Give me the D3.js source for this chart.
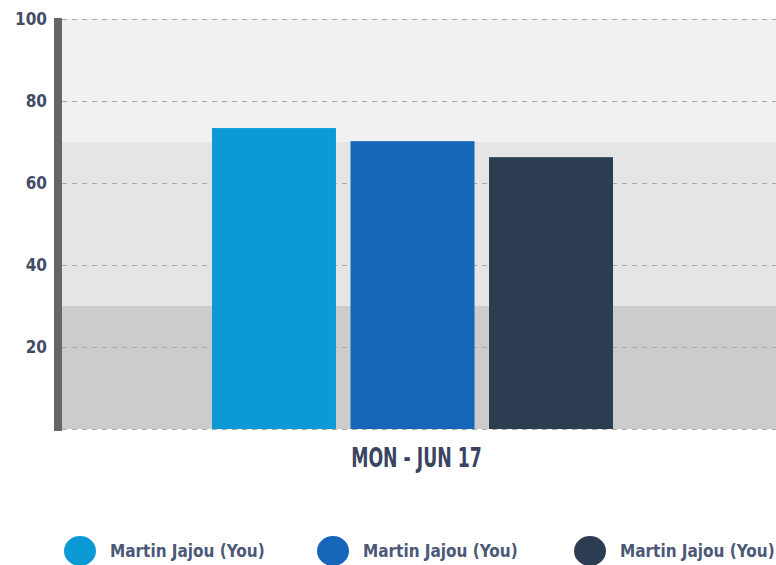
<!DOCTYPE html>
<html><head><meta charset="utf-8">
<script src="https://cdn.jsdelivr.net/npm/d3@7"></script>
<style>
html,body{margin:0;padding:0;background:#fff;}
svg text{font-family:"DejaVu Sans Condensed","Liberation Sans Narrow",sans-serif;font-weight:bold;}
</style></head>
<body><svg id="c" width="776" height="565"></svg>
<script>
const categories = ["MON - JUN 17"];
const seriesNames = ["Martin Jajou (You)", "Martin Jajou (You)", "Martin Jajou (You)"];
const seriesKeys = ["s1", "s2", "s3"];
const seriesValues = [73.4, 70.2, 66.3];
const seriesColors = ["#0b9ad6", "#1565b8", "#2d3d51"];
const yTicks = [20, 40, 60, 80, 100];
const bands = [[0, 30, "#cccccc"], [30, 70, "#e5e5e5"], [70, 100, "#f1f1f1"]];

const svg = d3.select("#c");
const plotL = 62, plotR = 776, plotT = 19, plotB = 429;
const y = d3.scaleLinear().domain([0, 100]).range([plotB, plotT]);
const x0 = d3.scaleBand().domain(categories).range([plotL, 763]).paddingInner(0).paddingOuter(0.374);
const x1 = d3.scaleBand().domain(seriesKeys).range([0, x0.bandwidth()]).paddingInner(0.105).paddingOuter(0);

// background bands
svg.append("g").selectAll("rect").data(bands).join("rect")
  .attr("x", plotL).attr("width", plotR - plotL)
  .attr("y", d => y(d[1])).attr("height", d => y(d[0]) - y(d[1]))
  .attr("fill", d => d[2]);

// grid lines
const grid = svg.append("g").attr("transform", `translate(${plotL},0)`)
  .call(d3.axisLeft(y).tickValues([0].concat(yTicks)).tickSize(-(plotR - plotL)).tickFormat(""));
grid.select(".domain").remove();
grid.selectAll(".tick line").attr("stroke", "#a8a8a8").attr("stroke-dasharray", "5,5").attr("stroke-width", 1);

// bars
svg.append("g").selectAll("g").data(categories).join("g")
  .attr("transform", d => `translate(${x0(d)},0)`)
  .selectAll("rect").data(() => seriesKeys.map((k, i) => ({k, v: seriesValues[i], c: seriesColors[i]})))
  .join("rect")
  .attr("x", d => x1(d.k)).attr("width", x1.bandwidth())
  .attr("y", d => y(d.v)).attr("height", d => y(0) - y(d.v))
  .attr("fill", d => d.c);

// y axis bar
svg.append("rect").attr("x", 54).attr("y", y(100) - 1).attr("width", 8).attr("height", y(0) - y(100) + 3).attr("fill", "#666666");

// y tick labels
const yAx = svg.append("g").attr("transform", `translate(47,0)`)
  .call(d3.axisLeft(y).tickValues(yTicks).tickSize(0).tickPadding(0));
yAx.select(".domain").remove();
yAx.selectAll("text").attr("fill", "#434c66").style("font-size", "17px")
  .style("font-family", '"DejaVu Sans Condensed",sans-serif').style("font-weight", "bold");

// x label (condensed, taller glyphs)
const xAx = svg.append("g").attr("transform", `translate(0,${plotB})`)
  .call(d3.axisBottom(x0).tickSize(0).tickPadding(0));
xAx.select(".domain").remove();
xAx.selectAll(".tick text").attr("fill", "#3a4360").attr("dy", null).attr("y", 0)
  .style("font-size", "26px").style("font-family", '"DejaVu Sans Condensed",sans-serif').style("font-weight", "bold")
  .attr("transform", "translate(4,38) scale(0.74,1)");

// legend
const legX = [80, 333, 590];
const leg = svg.append("g").selectAll("g").data(seriesNames).join("g")
  .attr("transform", (d, i) => `translate(${legX[i]},551)`);
leg.append("ellipse").attr("rx", 16).attr("ry", 15).attr("fill", (d, i) => seriesColors[i]);
leg.append("text").attr("x", 30).attr("y", 6).text(d => d)
  .attr("fill", "#4b5878").style("font-size", "17px");
</script></body></html>
